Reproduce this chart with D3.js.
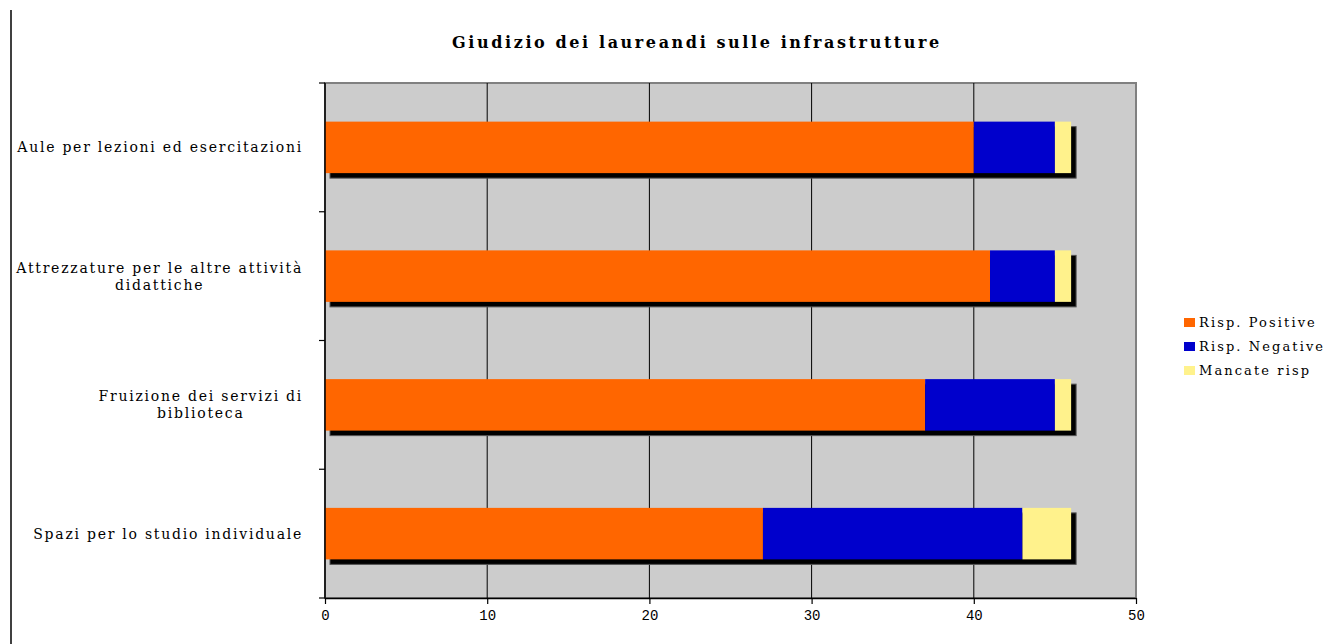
<!DOCTYPE html>
<html><head><meta charset="utf-8">
<script src="https://cdn.jsdelivr.net/npm/d3@7"></script>
<style>
html,body{margin:0;padding:0;background:#fff;}
svg{display:block;}
</style></head>
<body>
<svg id="chart" width="1335" height="644"></svg>
<script>
const categories = [
  "Aule per lezioni ed esercitazioni",
  "Attrezzature per le altre attività|didattiche",
  "Fruizione dei servizi di|biblioteca",
  "Spazi per lo studio individuale"
];
const seriesNames = ["Risp. Positive", "Risp. Negative", "Mancate risp"];
const positive = [40, 41, 37, 27];
const negative = [5, 4, 8, 16];
const missing = [1, 1, 1, 3];
const xTicks = [0, 10, 20, 30, 40, 50];
const colors = ["#FF6600", "#0000CC", "#FFF28C"];
const title = "Giudizio dei laureandi sulle infrastrutture";

const svg = d3.select("#chart");
const m = {left: 325, right: 1136, top: 83, bottom: 598};

svg.append("line").attr("x1", 11).attr("x2", 11).attr("y1", 10).attr("y2", 644)
  .attr("stroke", "#000").attr("stroke-width", 1.5);

const x = d3.scaleLinear().domain([0, 50]).range([m.left, m.right]);
const y = d3.scaleBand().domain(d3.range(categories.length)).range([m.top, m.bottom]).paddingInner(0.6).paddingOuter(0.3);

svg.append("rect").attr("x", m.left).attr("y", m.top).attr("width", m.right - m.left).attr("height", m.bottom - m.top)
  .attr("fill", "#CCCCCC").attr("stroke", "#808080").attr("stroke-width", 2);

svg.append("g").selectAll("line").data(xTicks.filter(t => t > 0 && t < 50)).join("line")
  .attr("x1", d => x(d)).attr("x2", d => x(d)).attr("y1", m.top).attr("y2", m.bottom)
  .attr("stroke", "#000").attr("stroke-width", 1);

const rows = categories.map((c, i) => ({i, v: [positive[i], negative[i], missing[i]]}));
const stack = d3.stack().keys([0, 1, 2]).value((d, k) => d.v[k]);
const stacked = stack(rows);
const totals = rows.map(r => d3.sum(r.v));

svg.append("g").selectAll("rect").data(rows).join("rect")
  .attr("x", d => x(0) + 5).attr("y", d => y(d.i) + 5)
  .attr("width", d => x(totals[d.i]) - x(0)).attr("height", y.bandwidth())
  .attr("fill", "#000").attr("stroke", "#555").attr("stroke-width", 1);

svg.append("g").selectAll("g").data(stacked).join("g")
  .attr("fill", (d, k) => colors[k])
  .selectAll("rect").data(d => d).join("rect")
  .attr("x", d => x(d[0])).attr("y", d => y(d.data.i))
  .attr("width", d => x(d[1]) - x(d[0])).attr("height", y.bandwidth());

const xAxis = d3.axisBottom(x).tickValues(xTicks).tickSize(6).tickSizeOuter(0);
const gx = svg.append("g").attr("transform", `translate(0,${m.bottom})`).call(xAxis);
gx.select(".domain").attr("stroke", "#000").attr("stroke-width", 1.5);
gx.selectAll(".tick line").attr("stroke", "#000").attr("stroke-width", 1.2);
gx.selectAll("text").attr("font-family", "'Liberation Mono', 'DejaVu Sans Mono', monospace")
  .attr("font-size", 14).attr("fill", "#000").attr("dy", "0.9em");

const yBounds = d3.range(categories.length + 1).map(i => m.top + i * (m.bottom - m.top) / categories.length);
svg.append("line").attr("x1", m.left).attr("x2", m.left).attr("y1", m.top).attr("y2", m.bottom)
  .attr("stroke", "#000").attr("stroke-width", 1.5);
svg.append("g").selectAll("line").data(yBounds).join("line")
  .attr("x1", m.left - 6).attr("x2", m.left).attr("y1", d => d).attr("y2", d => d)
  .attr("stroke", "#000").attr("stroke-width", 1.2);

const labelFont = "'DejaVu Serif', 'Liberation Serif', serif";
const labelRight = 303;
categories.forEach((c, i) => {
  const lines = c.split("|");
  const g = svg.append("g");
  const cy = y(i) + y.bandwidth() / 2;
  const lh = 17;
  const texts = lines.map((ln, j) => g.append("text")
    .attr("y", cy + (j - (lines.length - 1) / 2) * lh + 5)
    .attr("font-family", labelFont).attr("font-size", 14).attr("letter-spacing", 1.75)
    .attr("fill", "#000").text(ln));
  const widths = texts.map(t => t.node().getComputedTextLength());
  const maxW = d3.max(widths);
  const center = labelRight - maxW / 2;
  texts.forEach(t => t.attr("x", center).attr("text-anchor", "middle"));
});

svg.append("text").attr("x", 697).attr("y", 48).attr("text-anchor", "middle")
  .attr("font-family", labelFont).attr("font-weight", "bold").attr("font-size", 16)
  .attr("letter-spacing", 2.6).attr("fill", "#000").text(title);

const lg = svg.append("g");
seriesNames.forEach((s, k) => {
  const ly = 323 + k * 24;
  lg.append("rect").attr("x", 1184).attr("y", ly - 5).attr("width", 11).attr("height", 9).attr("fill", colors[k]);
  lg.append("text").attr("x", 1199).attr("y", ly + 4).attr("font-family", labelFont).attr("font-size", 13)
    .attr("letter-spacing", 2.1).attr("fill", "#000").text(s);
});
</script>
</body></html>
